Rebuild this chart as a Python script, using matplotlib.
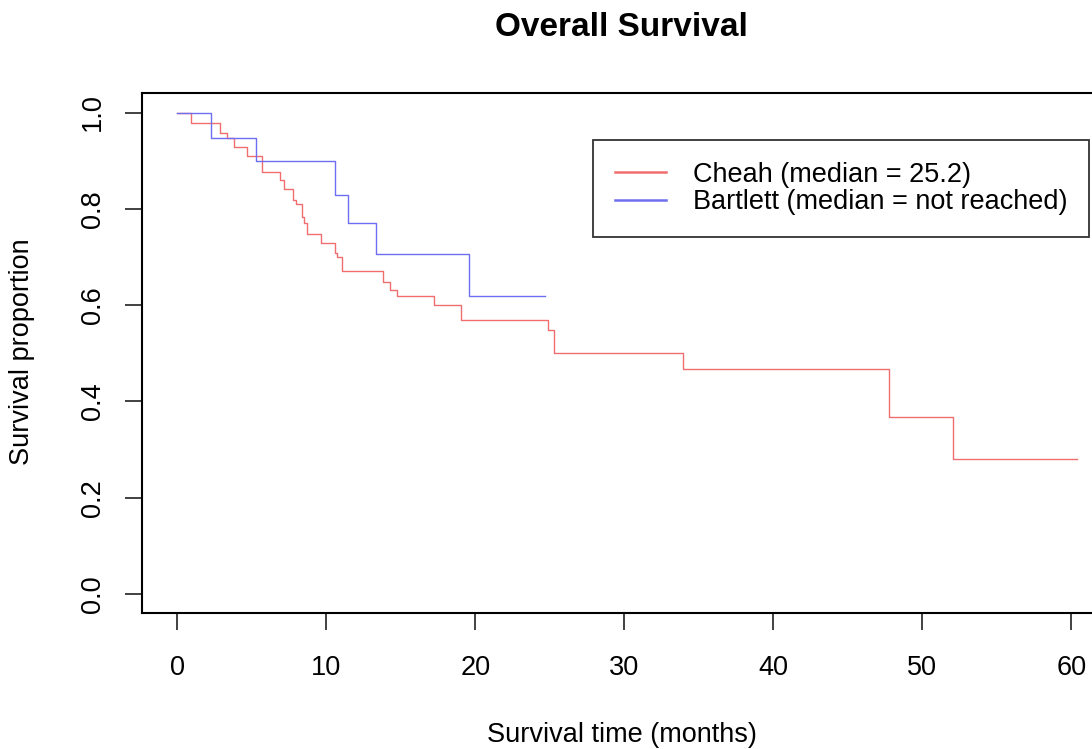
import matplotlib
matplotlib.use("Agg")
import matplotlib.pyplot as plt

plt.rcParams['font.family'] = ['Liberation Sans', 'DejaVu Sans']

# Kaplan-Meier step data
cheah_t = [0, 0.94, 2.86, 3.37, 3.80, 4.67, 5.72, 6.93, 7.15, 7.78, 7.96, 8.39, 8.49,
           8.72, 9.68, 10.57, 10.73, 11.04, 13.80, 14.31, 14.76, 17.26, 19.07, 24.89,
           25.27, 33.95, 47.74, 52.04, 60.38]
cheah_s = [1.0, 0.979, 0.958, 0.947, 0.928, 0.909, 0.877, 0.859, 0.841, 0.818, 0.810,
           0.784, 0.770, 0.748, 0.729, 0.708, 0.699, 0.670, 0.649, 0.631, 0.619, 0.600,
           0.569, 0.548, 0.501, 0.467, 0.367, 0.280, 0.280]

bartlett_t = [0, 2.28, 5.27, 10.61, 11.47, 13.37, 19.56, 24.66]
bartlett_s = [1.0, 0.947, 0.899, 0.829, 0.770, 0.706, 0.619, 0.619]

labels = ["Cheah (median = 25.2)", "Bartlett (median = not reached)"]
colors = ["#f06e6e", "#6e6ef0"]
xticks = [0, 10, 20, 30, 40, 50, 60]
yticks = [0.0, 0.2, 0.4, 0.6, 0.8, 1.0]

fig = plt.figure(figsize=(10.92, 7.49), dpi=100)
ax = fig.add_axes([0.1298, 0.1812, 0.890, 0.6943])

ax.step(cheah_t, cheah_s, where='post', color=colors[0], lw=1.0, label=labels[0])
ax.step(bartlett_t, bartlett_s, where='post', color=colors[1], lw=1.0, label=labels[1])

ax.set_xlim(-2.38, 62.83)
ax.set_ylim(-0.04, 1.04)
ax.set_xticks(xticks)
ax.set_yticks(yticks)
ax.set_xticklabels([str(v) for v in xticks], fontsize=19.5)
ax.set_yticklabels([f"{v:.1f}" for v in yticks], fontsize=19.5, rotation=90, va='center')
ax.tick_params(axis='both', direction='out', length=12, width=1.3, color='#333333')
ax.tick_params(axis='x', pad=18)
ax.tick_params(axis='y', pad=14)
for s in ax.spines.values():
    s.set_linewidth(1.5)

fig.text(0.5695, 0.963, "Overall Survival", ha='center', va='center',
         fontsize=24, fontweight='bold')
fig.text(0.5695, 0.0187, "Survival time (months)", ha='center', va='center', fontsize=19.5)
fig.text(0.0205, 0.53, "Survival proportion", ha='center', va='center',
         fontsize=19.5, rotation=90)

leg = ax.legend(loc='upper left', bbox_to_anchor=(593 / 1092, 1 - 140 / 749),
                bbox_transform=fig.transFigure, fontsize=19.5, frameon=True,
                fancybox=False, edgecolor='black', handlelength=1.9,
                handletextpad=1.0, labelspacing=0.05, borderpad=0.8,
                borderaxespad=0)
leg.get_frame().set_linewidth(1.3)
for line in leg.get_lines():
    line.set_linewidth(1.8)

fig.savefig("out.png", dpi=100)
